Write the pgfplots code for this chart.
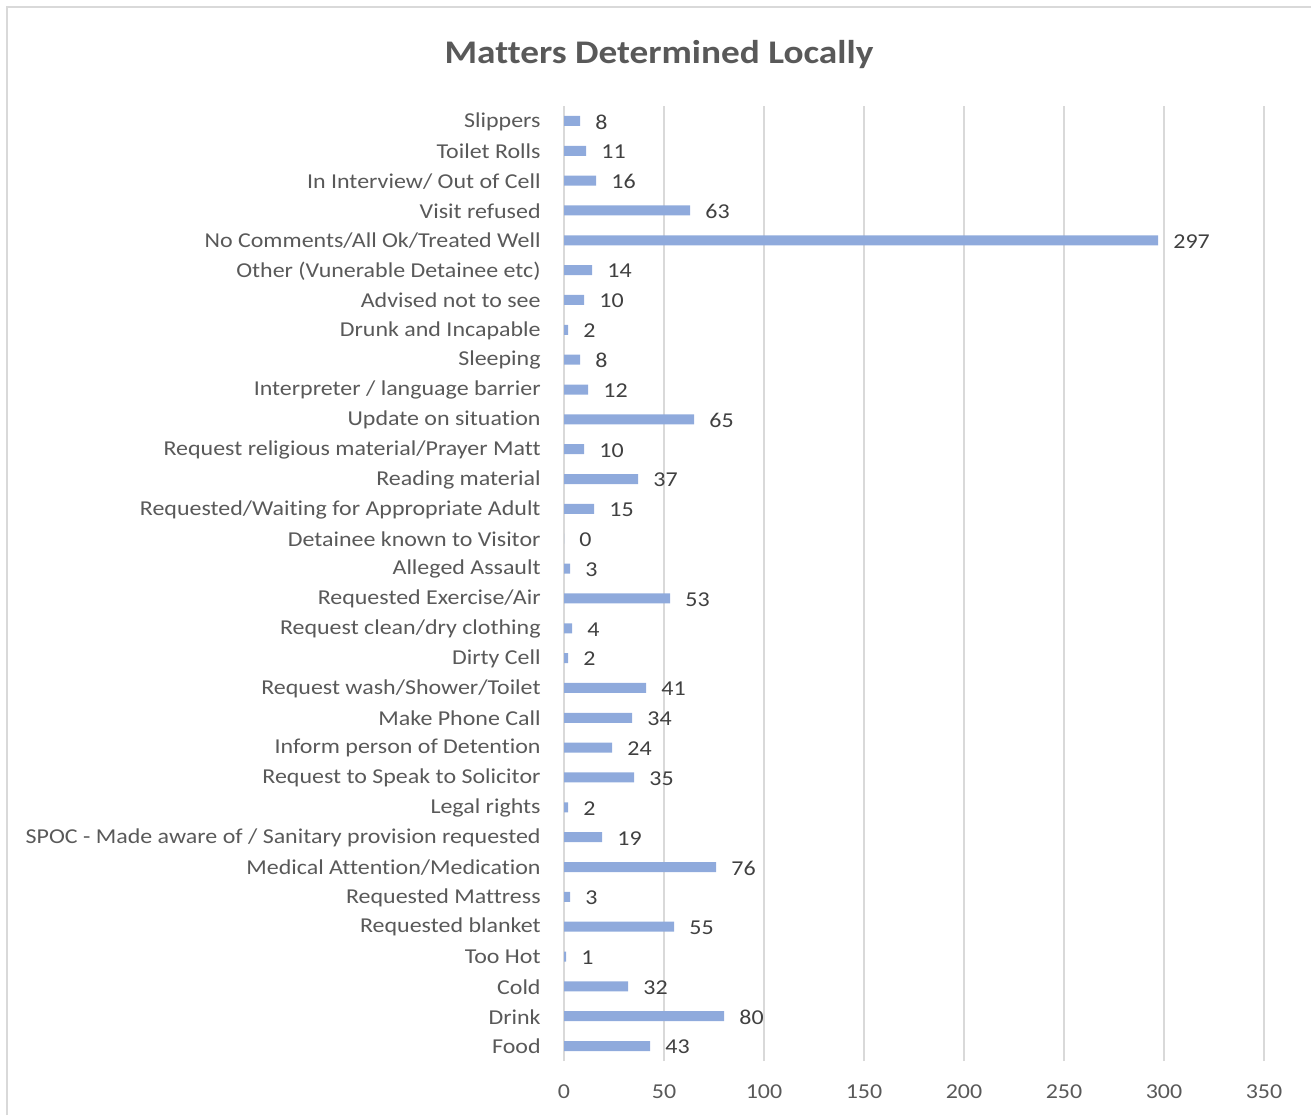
\documentclass[border=0pt]{standalone}
\usepackage{fontspec}
\setmainfont{Carlito}[FakeStretch=1.13, Ligatures=NoCommon]
\usepackage{pgfplots}
\pgfplotsset{compat=1.18}

\definecolor{barblue}{HTML}{8FAADC}
\definecolor{gridgray}{HTML}{D9D9D9}
\definecolor{txtgray}{HTML}{595959}
\definecolor{lblgray}{HTML}{404040}

\begin{document}
\begin{tikzpicture}
% page = 1311 x 1115 px at 0.5pt per px
\path[use as bounding box] (0,0) rectangle (655.5pt,557.5pt);
\draw[gridgray, line width=0.8pt] (3.5pt,0) -- (3.5pt,554pt) -- (655.5pt,554pt);
\node[font=\fontsize{16.5}{18}\selectfont\bfseries, text=txtgray] at (329.5pt,530pt) {Matters Determined Locally};

\begin{axis}[
  at={(282pt,27pt)}, anchor=south west,
  scale only axis,
  width=350pt, height=477.5pt,
  xbar,
  bar width=5pt,
  xmin=0, xmax=350,
  ymin=-0.5, ymax=31.5,
  xtick={0,50,...,350},
  ytick={0,...,31},
  yticklabels={Food,Drink,Cold,Too Hot,Requested blanket,Requested Mattress,
    Medical Attention/Medication,SPOC - Made aware of / Sanitary provision requested,
    Legal rights,Request to Speak to Solicitor,Inform person of Detention,
    Make Phone Call\ ,Request wash/Shower/Toilet,Dirty Cell,Request clean/dry clothing,
    Requested Exercise/Air,Alleged Assault,Detainee known to Visitor,
    Requested/Waiting for Appropriate Adult,Reading material,
    Request religious material/Prayer Matt,Update on situation,
    Interpreter / language barrier,Sleeping,Drunk and Incapable,Advised not to see,
    {Other (Vunerable Detainee etc)},No Comments/All Ok/Treated Well,Visit refused,
    In Interview/ Out of Cell,Toilet Rolls,Slippers},
  axis line style={draw=none},
  major tick length=0pt,
  xmajorgrids=true,
  major grid style={gridgray, line width=0.8pt},
  /pgf/number format/assume math mode=true,
  xticklabel style={font=\fontsize{10.6}{12}\selectfont, text=txtgray, anchor=center, yshift=-15.5pt},
  yticklabel style={font=\fontsize{10.6}{12}\selectfont, text=txtgray, anchor=east, inner sep=0pt, xshift=-11.5pt, yshift=-0.3pt},
  nodes near coords,
  every node near coord/.append style={font=\fontsize{10.6}{12}\selectfont, text=lblgray, anchor=west, inner sep=0pt, xshift=7.5pt, yshift=-0.5pt},
  clip=false,
]
\addplot[fill=barblue, draw=none] coordinates {
  (43,0) (80,1) (32,2) (1,3) (55,4) (3,5) (76,6) (19,7) (2,8) (35,9)
  (24,10) (34,11) (41,12) (2,13) (4,14) (53,15) (3,16) (0,17) (15,18) (37,19)
  (10,20) (65,21) (12,22) (8,23) (2,24) (10,25) (14,26) (297,27) (63,28) (16,29)
  (11,30) (8,31)
};
\end{axis}
\end{tikzpicture}
\end{document}
